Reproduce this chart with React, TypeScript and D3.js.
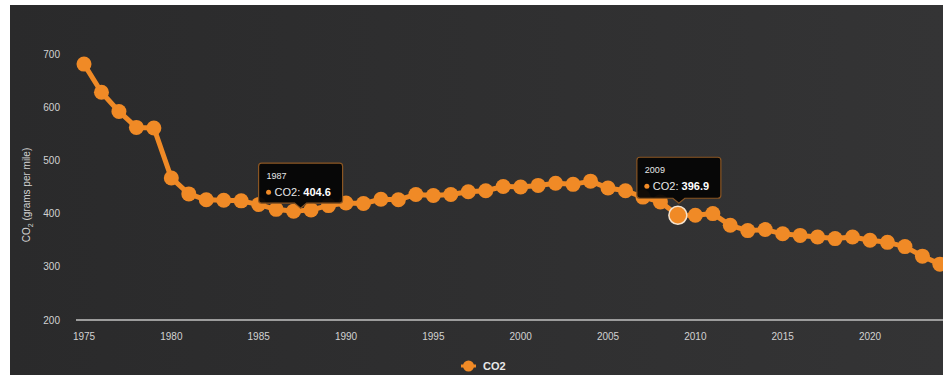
import React from "react";
import * as d3 from "d3";

// Average real-world CO2 emissions of new vehicles, grams per mile
const years = [
  1975, 1976, 1977, 1978, 1979, 1980, 1981, 1982, 1983, 1984,
  1985, 1986, 1987, 1988, 1989, 1990, 1991, 1992, 1993, 1994,
  1995, 1996, 1997, 1998, 1999, 2000, 2001, 2002, 2003, 2004,
  2005, 2006, 2007, 2008, 2009, 2010, 2011, 2012, 2013, 2014,
  2015, 2016, 2017, 2018, 2019, 2020, 2021, 2022, 2023, 2024,
];
const co2 = [
  681, 628, 592, 562, 561, 467, 437, 426, 425, 424,
  417, 408, 404.6, 407, 415, 420, 419, 427, 426, 436,
  434, 436, 441, 443, 451, 450, 453, 457, 455, 461,
  448, 443, 431, 422, 396.9, 397, 400, 378, 368, 370,
  362, 359, 356, 353, 356, 350, 346, 338, 320, 305,
];
const yTicks = [200, 300, 400, 500, 600, 700];
const xTicks = [1975, 1980, 1985, 1990, 1995, 2000, 2005, 2010, 2015, 2020];
const tooltipYears = [1987, 2009];
const highlightYear = 2009;
const seriesName = "CO2";

const W = 943;
const H = 375;
const ORANGE = "#f08a26";
const FONT = "'Liberation Sans', Arial, Helvetica, sans-serif";

export default function App() {
  const x = d3.scaleLinear().domain([1975, 2020]).range([84, 870]);
  const y = d3.scaleLinear().domain([200, 700]).range([320, 54]);

  const pts = years.map((yr, i) => ({ yr, v: co2[i] }));
  const line = d3
    .line<{ yr: number; v: number }>()
    .x((d) => x(d.yr))
    .y((d) => y(d.v));

  // per-tooltip placement tweaks (box offset from its point)
  const tipLayout: Record<number, { dx: number; top: number; h: number }> = {
    1987: { dx: 7, top: 48, h: 40 },
    2009: { dx: 1, top: 58, h: 41 },
  };

  return (
    <svg
      width={W}
      height={H}
      style={{ position: "fixed", left: 0, top: 0, display: "block" }}
    >
      <defs>
        <linearGradient id="bg" x1="0" x2="1" y1="0" y2="0">
          <stop offset="0" stopColor="#2a2a2b" />
          <stop offset="1" stopColor="#343435" />
        </linearGradient>
      </defs>
      <rect x={0} y={0} width={W} height={H} fill="#ffffff" />
      <rect x={10} y={5} width={W - 10} height={H - 5} fill="url(#bg)" />

      {/* y axis labels */}
      {yTicks.map((t) => (
        <text
          key={t}
          x={60}
          y={y(t)}
          dy="0.35em"
          textAnchor="end"
          fontFamily={FONT}
          fontSize={10}
          fill="#d2d2d2"
        >
          {t}
        </text>
      ))}
      <text
        transform={`translate(30,${195}) rotate(-90)`}
        textAnchor="middle"
        fontFamily={FONT}
        fontSize={10}
        fill="#d2d2d2"
      >
        CO
        <tspan fontSize={7} dy={3}>
          2
        </tspan>
        <tspan dy={-3}> (grams per mile)</tspan>
      </text>

      {/* x axis */}
      <line x1={76} x2={W} y1={y(200)} y2={y(200)} stroke="#9c9c9c" strokeWidth={2} />
      {xTicks.map((t) => (
        <text
          key={t}
          x={x(t)}
          y={336}
          dy="0.35em"
          textAnchor="middle"
          fontFamily={FONT}
          fontSize={10}
          fill="#d2d2d2"
        >
          {t}
        </text>
      ))}

      {/* series */}
      <path d={line(pts) || ""} fill="none" stroke={ORANGE} strokeWidth={5} strokeLinejoin="round" />
      {pts.map((p) => (
        <circle key={p.yr} cx={x(p.yr)} cy={y(p.v)} r={7.5} fill={ORANGE} />
      ))}
      {pts
        .filter((p) => p.yr === highlightYear)
        .map((p) => (
          <circle
            key={"hl" + p.yr}
            cx={x(p.yr)}
            cy={y(p.v)}
            r={9}
            fill={ORANGE}
            stroke="#f4e3cf"
            strokeWidth={1.5}
          />
        ))}

      {/* tooltips */}
      {tooltipYears.map((yr) => {
        const i = years.indexOf(yr);
        const v = co2[i];
        const px = x(yr);
        const py = y(v);
        const L = tipLayout[yr];
        const w = 84;
        const cx = px + L.dx;
        const left = cx - w / 2;
        const top = py - L.top;
        const bottom = top + L.h;
        const path = `M${left + 3},${top} H${left + w - 3} Q${left + w},${top} ${left + w},${top + 3} V${bottom - 3} Q${left + w},${bottom} ${left + w - 3},${bottom} H${cx + 6} L${cx},${bottom + 5} L${cx - 6},${bottom} H${left + 3} Q${left},${bottom} ${left},${bottom - 3} V${top + 3} Q${left},${top} ${left + 3},${top} Z`;
        return (
          <g key={"tip" + yr}>
            <path d={path} fill="#050505" fillOpacity={0.95} stroke="#8a5522" strokeWidth={1.2} />
            <text x={left + 8} y={top + 16} fontFamily={FONT} fontSize={9} fill="#e6e6e6">
              {yr}
            </text>
            <circle cx={left + 10} cy={top + 29} r={2.5} fill={ORANGE} />
            <text x={left + 16} y={top + 33} fontFamily={FONT} fontSize={11} fill="#e6e6e6">
              {seriesName}:{" "}
              <tspan fontWeight="bold" fill="#ffffff">
                {v.toFixed(1)}
              </tspan>
            </text>
          </g>
        );
      })}

      {/* legend */}
      <line x1={461} x2={476} y1={366} y2={366} stroke={ORANGE} strokeWidth={3} />
      <circle cx={468.5} cy={366} r={5.5} fill={ORANGE} />
      <text
        x={483}
        y={366}
        dy="0.35em"
        fontFamily={FONT}
        fontSize={11}
        fontWeight="bold"
        fill="#e8e8e8"
      >
        {seriesName}
      </text>
    </svg>
  );
}
